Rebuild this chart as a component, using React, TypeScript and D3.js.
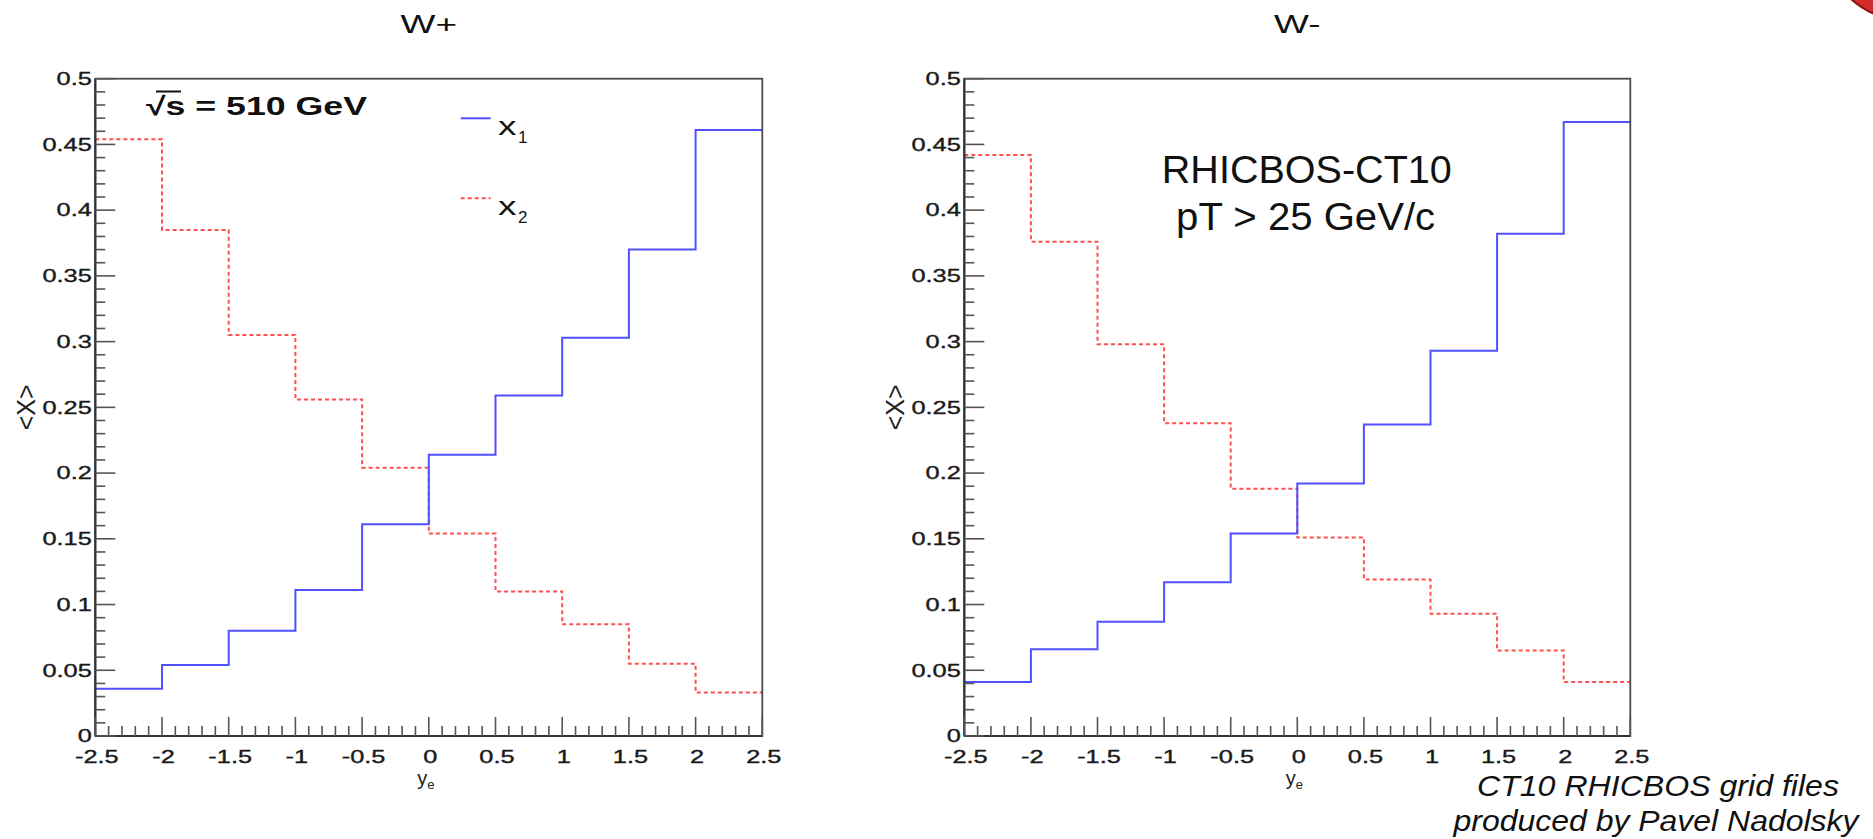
import React from 'react';
import * as d3 from 'd3';

// bin edges in y_e and axis ticks
const yeEdges = [-2.5, -2, -1.5, -1, -0.5, 0, 0.5, 1, 1.5, 2, 2.5];
const xTicks = [-2.5, -2, -1.5, -1, -0.5, 0, 0.5, 1, 1.5, 2, 2.5];
const yTicks = [0, 0.05, 0.1, 0.15, 0.2, 0.25, 0.3, 0.35, 0.4, 0.45, 0.5];

// <x> per bin, W+
const wPlusX1 = [0.036, 0.054, 0.080, 0.111, 0.161, 0.214, 0.259, 0.303, 0.370, 0.461];
const wPlusX2 = [0.454, 0.385, 0.305, 0.256, 0.204, 0.154, 0.110, 0.085, 0.055, 0.033];

// <x> per bin, W-
const wMinusX1 = [0.041, 0.066, 0.087, 0.117, 0.154, 0.192, 0.237, 0.293, 0.382, 0.467];
const wMinusX2 = [0.442, 0.376, 0.298, 0.238, 0.188, 0.151, 0.119, 0.093, 0.065, 0.041];

const W = 1873;
const H = 839;
const TOP = 78.7;
const BOTTOM = 736;
const FONT = '"Liberation Sans", Arial, Helvetica, sans-serif';
const STRETCH = 1.45;
const BLUE = '#5050ff';
const RED = '#ff5050';

const isMajor = (v: number, step: number) => Math.abs(v / step - Math.round(v / step)) < 1e-6;

function Panel({ left, right, title, x1, x2, children }: any) {
  const x = d3.scaleLinear().domain([-2.5, 2.5]).range([left, right]);
  const y = d3.scaleLinear().domain([0, 0.5]).range([BOTTOM, TOP]);

  const step = d3.line<[number, number]>()
    .x(d => x(d[0]))
    .y(d => y(d[1]))
    .curve(d3.curveStepAfter);

  const pts = (vals: number[]): [number, number][] => [
    ...vals.map((v, i) => [yeEdges[i], v] as [number, number]),
    [yeEdges[vals.length], vals[vals.length - 1]],
  ];

  const cx = (left + right) / 2;
  const cy = (TOP + BOTTOM) / 2;

  const xMinor = x.ticks(50).filter(v => !isMajor(v, 0.5));
  const yMinor = y.ticks(50).filter(v => !isMajor(v, 0.05));

  return (
    <g>
      {/* title */}
      <text transform={`translate(${cx},33.3) scale(${STRETCH},1)`} textAnchor="middle"
        fontFamily={FONT} fontSize={25.5} fill="#111">{title}</text>

      {/* histograms */}
      <path d={step(pts(x2)) || ''} fill="none" stroke={RED} strokeWidth={2} strokeDasharray="4 3" />
      <path d={step(pts(x1)) || ''} fill="none" stroke={BLUE} strokeWidth={2} />

      {/* frame */}
      <rect x={left} y={TOP} width={right - left} height={BOTTOM - TOP}
        fill="none" stroke="#4a4a4a" strokeWidth={1.8} />
      <line x1={left} x2={left} y1={TOP} y2={BOTTOM} stroke="#333" strokeWidth={2.2} />
      <line x1={left} x2={right} y1={BOTTOM} y2={BOTTOM} stroke="#333" strokeWidth={2.2} />

      {/* ticks */}
      <g stroke="#555" strokeWidth={1.6}>
        {yTicks.map(v => <line key={'ym' + v} x1={left} x2={left + 20} y1={y(v)} y2={y(v)} />)}
        {yMinor.map(v => <line key={'yn' + v} x1={left} x2={left + 10} y1={y(v)} y2={y(v)} />)}
        {xTicks.map(v => <line key={'xm' + v} x1={x(v)} x2={x(v)} y1={BOTTOM} y2={BOTTOM - 19} />)}
        {xMinor.map(v => <line key={'xn' + v} x1={x(v)} x2={x(v)} y1={BOTTOM} y2={BOTTOM - 10} />)}
      </g>

      {/* tick labels */}
      <g fontFamily={FONT} fontSize={17.5} fill="#1a1a1a" stroke="#1a1a1a" strokeWidth={0.35}>
        {yTicks.map(v => (
          <text key={'yl' + v} transform={`translate(${left - 3.5},${y(v) + 6.3}) scale(${STRETCH},1)`}
            textAnchor="end">{String(v)}</text>
        ))}
        {xTicks.map(v => (
          <text key={'xl' + v} transform={`translate(${x(v) + 1.5},762.5) scale(${STRETCH},1)`}
            textAnchor="middle">{String(v)}</text>
        ))}
      </g>

      {/* axis titles */}
      <text transform={`translate(${left - 60},${cy}) rotate(-90)`} textAnchor="middle"
        fontFamily={FONT} fontSize={25} fill="#222">&lt;X&gt;</text>
      <text x={cx - 3} y={785} textAnchor="middle" fontFamily={FONT} fontSize={20} fill="#222">
        y<tspan fontSize={13} dy={4}>e</tspan>
      </text>

      {children}
    </g>
  );
}

export default function App() {
  return (
    <svg width={W} height={H} viewBox={`0 0 ${W} ${H}`}
      style={{ position: 'absolute', left: 0, top: 0, background: '#fff' }}>
      <rect width={W} height={H} fill="#fff" />

      <Panel left={95.3} right={762.3} title="W+" x1={wPlusX1} x2={wPlusX2}>
        <text x={146} y={115} textLength={221} lengthAdjust="spacingAndGlyphs"
          fontFamily={FONT} fontWeight="bold" fontSize={25.6} fill="#111">√s = 510 GeV</text>
        <line x1={156} x2={181} y1={91.5} y2={91.5} stroke="#111" strokeWidth={2} />

        {/* legend */}
        <line x1={460.7} x2={490.7} y1={118.3} y2={118.3} stroke={BLUE} strokeWidth={2} />
        <text transform={`translate(498,135) scale(${STRETCH},1)`} fontFamily={FONT} fontSize={25.5} fill="#111">x</text>
        <text x={518} y={143} fontFamily={FONT} fontSize={17} fill="#111">1</text>
        <line x1={460.7} x2={490.7} y1={198.3} y2={198.3} stroke={RED} strokeWidth={2} strokeDasharray="4 3" />
        <text transform={`translate(498,215) scale(${STRETCH},1)`} fontFamily={FONT} fontSize={25.5} fill="#111">x</text>
        <text x={518} y={223} fontFamily={FONT} fontSize={17} fill="#111">2</text>
      </Panel>

      <Panel left={964.3} right={1630.3} title="W-" x1={wMinusX1} x2={wMinusX2}>
        <text x={1306.8} y={182.7} textAnchor="middle" textLength={290} lengthAdjust="spacingAndGlyphs"
          fontFamily={FONT} fontSize={38} fill="#111">RHICBOS-CT10</text>
        <text x={1305.6} y={229.5} textAnchor="middle" textLength={259} lengthAdjust="spacingAndGlyphs"
          fontFamily={FONT} fontSize={38} fill="#111">pT &gt; 25 GeV/c</text>
      </Panel>

      {/* credit */}
      <text x={1658} y={796} textAnchor="middle" textLength={362} lengthAdjust="spacingAndGlyphs"
        fontFamily={FONT} fontStyle="italic" fontSize={30} fill="#111">CT10 RHICBOS grid files</text>
      <text x={1656} y={831} textAnchor="middle" textLength={405} lengthAdjust="spacingAndGlyphs"
        fontFamily={FONT} fontStyle="italic" fontSize={30} fill="#111">produced by Pavel Nadolsky</text>

      {/* slide decoration in the corner */}
      <circle cx={1905} cy={-60} r={80} fill="#d42a2a" stroke="#8a1010" strokeWidth={2} />
    </svg>
  );
}
